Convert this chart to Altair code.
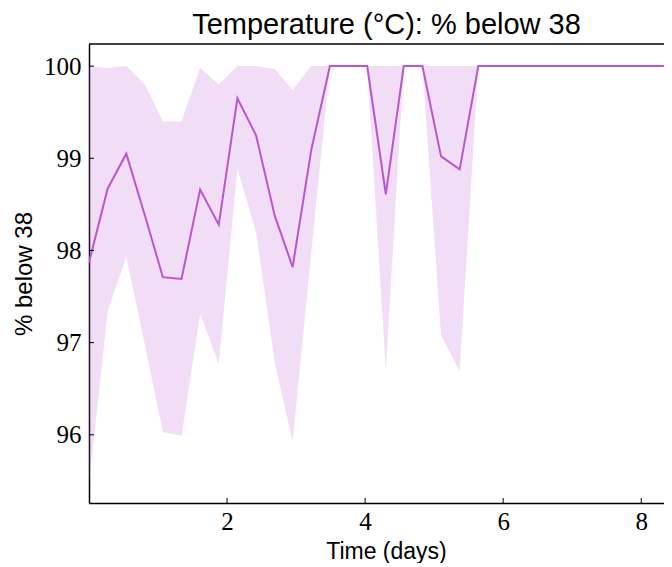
import altair as alt
import pandas as pd

# ---- data ----
time_days = [0.00, 0.27, 0.54, 0.81, 1.07, 1.34, 1.61, 1.88, 2.15, 2.42, 2.69,
             2.95, 3.22, 3.49, 3.76, 4.03, 4.30, 4.56, 4.83, 5.10, 5.37, 5.64,
             5.91, 6.18, 6.44, 6.71, 6.98, 7.25, 7.52, 7.79, 8.06, 8.32, 8.59]
pct_mean = [97.87, 98.67, 99.05, 98.38, 97.71, 97.69, 98.66, 98.28, 99.65, 99.25, 98.38,
            97.82, 99.09, 100.0, 100.0, 100.0, 98.61, 100.0, 100.0, 99.02, 98.88, 100.0,
            100.0, 100.0, 100.0, 100.0, 100.0, 100.0, 100.0, 100.0, 100.0, 100.0, 100.0]
pct_low = [95.47, 97.34, 97.93, 96.98, 96.03, 95.99, 97.31, 96.77, 98.89, 98.20, 96.79,
           95.93, 97.98, 100.0, 100.0, 100.0, 96.70, 100.0, 100.0, 97.08, 96.69, 100.0,
           100.0, 100.0, 100.0, 100.0, 100.0, 100.0, 100.0, 100.0, 100.0, 100.0, 100.0]
pct_high = [100.0, 99.98, 100.0, 99.80, 99.40, 99.40, 99.98, 99.80, 100.0, 100.0, 99.97,
            99.74, 100.0, 100.0, 100.0, 100.0, 100.0, 100.0, 100.0, 100.0, 100.0, 100.0,
            100.0, 100.0, 100.0, 100.0, 100.0, 100.0, 100.0, 100.0, 100.0, 100.0, 100.0]
x_ticks = [2, 4, 6, 8]
y_ticks = [96, 97, 98, 99, 100]
x_domain = [0, 8.33]
y_domain = [95.26, 100.24]

W, H = 575, 459
COLOR = "#BA55D3"

df = pd.DataFrame({"t": time_days, "m": pct_mean, "lo": pct_low, "hi": pct_high})
xs = alt.Scale(domain=x_domain, nice=False, zero=False)
ys = alt.Scale(domain=y_domain, nice=False, zero=False)

x_axis = alt.Axis(values=x_ticks, format="d", ticks=False, grid=False,
                  labelFont="Liberation Serif", labelFontSize=25, labelColor="black",
                  labelPadding=6, domainColor="black", domainWidth=1.5,
                  title="Time (days)", titleFont="Liberation Sans", titleFontSize=23,
                  titleFontWeight="normal", titleColor="black", titlePadding=6,
                  titleX=297)
y_axis = alt.Axis(values=y_ticks, format="d", ticks=False, grid=False,
                  labelFont="Liberation Serif", labelFontSize=25, labelColor="black",
                  labelPadding=8, domainColor="black", domainWidth=1.5,
                  title="% below 38", titleFont="Liberation Sans", titleFontSize=24,
                  titleFontWeight="normal", titleColor="black", titlePadding=7)

band = alt.Chart(df).mark_area(color=COLOR, opacity=0.2, clip=True).encode(
    x=alt.X("t:Q", scale=xs, axis=x_axis),
    y=alt.Y("lo:Q", scale=ys, axis=y_axis),
    y2="hi:Q",
)
line = alt.Chart(df).mark_line(color=COLOR, strokeWidth=2, clip=True).encode(
    x=alt.X("t:Q", scale=xs, axis=x_axis),
    y=alt.Y("m:Q", scale=ys, axis=y_axis),
)
ytick = alt.Chart(pd.DataFrame({"t": y_ticks})).mark_rule(color="black", strokeWidth=1).encode(
    y=alt.Y("t:Q", scale=ys, axis=y_axis),
    x=alt.value(0), x2=alt.value(5),
)
xtick = alt.Chart(pd.DataFrame({"t": x_ticks})).mark_rule(color="black", strokeWidth=1).encode(
    x=alt.X("t:Q", scale=xs, axis=x_axis),
    y=alt.value(H), y2=alt.value(H - 5),
)
top = alt.Chart(pd.DataFrame({"a": [0]})).mark_rule(color="black", strokeWidth=1.5).encode(
    x=alt.value(0), x2=alt.value(W), y=alt.value(0),
)

chart = alt.layer(band, line, ytick, xtick, top).properties(
    width=W, height=H,
    title=alt.TitleParams("Temperature (°C): % below 38", font="Liberation Sans",
                          fontSize=29, fontWeight="normal", color="black",
                          offset=0, dx=10, dy=-3),
    autosize=alt.AutoSizeParams(type="none"),
    padding={"left": 81, "top": 36, "right": 0, "bottom": 60},
).configure_view(stroke=None)

chart.save("out.html", embed_options={"renderer": "svg", "actions": False})
